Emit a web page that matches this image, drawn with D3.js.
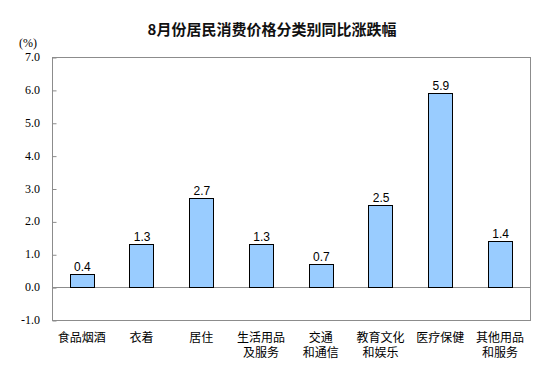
<!DOCTYPE html>
<html>
<head>
<meta charset="utf-8">
<style>
  body { margin: 0; background: #fff; }
  svg { display: block; }
</style>
</head>
<body>
<div id="chart"></div>
<script src="https://d3js.org/d3.v7.min.js"></script>
<script>
  // 数据
  const categories = ['食品烟酒', '衣着', '居住', '生活用品\n及服务', '交通\n和通信', '教育文化\n和娱乐', '医疗保健', '其他用品\n和服务'];
  const values = [0.4, 1.3, 2.7, 1.3, 0.7, 2.5, 5.9, 1.4];
  const yTicks = [-1, 0, 1, 2, 3, 4, 5, 6, 7];

  const W = 553, H = 384;
  const plotL = 52, plotR = 530, plotT = 57, plotB = 320;

  const svg = d3.select('#chart')
                .append('svg')
                .attr('width', W)
                .attr('height', H);

  const x = d3.scaleBand()
              .domain(categories)
              .range([plotL, plotR])
              .paddingInner(0.59)
              .paddingOuter(0.295);

  const y = d3.scaleLinear()
              .domain([-1, 7])
              .range([plotB, plotT]);

  // 标题
  svg.append('text')
     .attr('x', 272)
     .attr('y', 35)
     .attr('text-anchor', 'middle')
     .style('font-family', '"Noto Sans CJK SC", sans-serif')
     .style('font-size', '15px')
     .style('font-weight', 'bold')
     .style('fill', '#111')
     .text('8月份居民消费价格分类别同比涨跌幅');

  svg.append('text')
     .attr('x', 28)
     .attr('y', 47)
     .attr('text-anchor', 'middle')
     .style('font-family', '"Liberation Serif", serif')
     .style('font-size', '12px')
     .text('(%)');

  // 绘图区边框
  svg.append('rect')
     .attr('x', plotL + 0.5)
     .attr('y', plotT + 0.5)
     .attr('width', plotR - plotL)
     .attr('height', plotB - plotT)
     .attr('fill', 'none')
     .attr('stroke', '#8c8c8c')
     .attr('stroke-width', 1);

  // y 轴刻度
  const yAxis = svg.append('g')
     .attr('transform', `translate(${plotL + 0.5},0.5)`)
     .call(d3.axisRight(y).tickValues(yTicks).tickSize(4).tickFormat(''));
  yAxis.select('.domain').remove();
  yAxis.selectAll('line').attr('stroke', '#8c8c8c');

  svg.append('g')
     .selectAll('text')
     .data(yTicks)
     .enter()
     .append('text')
     .attr('x', 40)
     .attr('y', d => y(d) + 4)
     .attr('text-anchor', 'end')
     .style('font-family', '"Liberation Serif", serif')
     .style('font-size', '12px')
     .style('fill', '#000')
     .text(d => d.toFixed(1));

  // 零线
  svg.append('line')
     .attr('x1', plotL)
     .attr('x2', plotR)
     .attr('y1', Math.round(y(0)) + 0.5)
     .attr('y2', Math.round(y(0)) + 0.5)
     .attr('stroke', '#8c8c8c');

  // 柱子
  svg.append('g')
     .selectAll('rect')
     .data(values)
     .enter()
     .append('rect')
     .attr('x', (d, i) => Math.round(x(categories[i])) + 0.5)
     .attr('y', d => Math.round(y(d)) + 0.5)
     .attr('width', Math.round(x.bandwidth()))
     .attr('height', d => Math.round(y(0)) - Math.round(y(d)))
     .attr('fill', '#99ccff')
     .attr('stroke', '#000')
     .attr('stroke-width', 1);

  // 数值标签
  svg.append('g')
     .selectAll('text')
     .data(values)
     .enter()
     .append('text')
     .attr('x', (d, i) => x(categories[i]) + x.bandwidth() / 2 + 0.5)
     .attr('y', d => y(d) - 3)
     .attr('text-anchor', 'middle')
     .style('font-family', '"Liberation Sans", Arial, sans-serif')
     .style('font-size', '12px')
     .text(d => d.toFixed(1));

  // 分类标签
  const cat = svg.append('g')
     .selectAll('text')
     .data(categories)
     .enter()
     .append('text')
     .attr('x', d => x(d) + x.bandwidth() / 2)
     .attr('y', 342)
     .attr('text-anchor', 'middle')
     .style('font-family', '"Noto Sans CJK SC", sans-serif')
     .style('font-size', '12px')
     .style('fill', '#000');

  cat.selectAll('tspan')
     .data(d => d.split('\n'))
     .enter()
     .append('tspan')
     .attr('x', function() { return d3.select(this.parentNode).attr('x'); })
     .attr('dy', (d, i) => i === 0 ? 0 : 15)
     .text(d => d);
</script>
</body>
</html>
